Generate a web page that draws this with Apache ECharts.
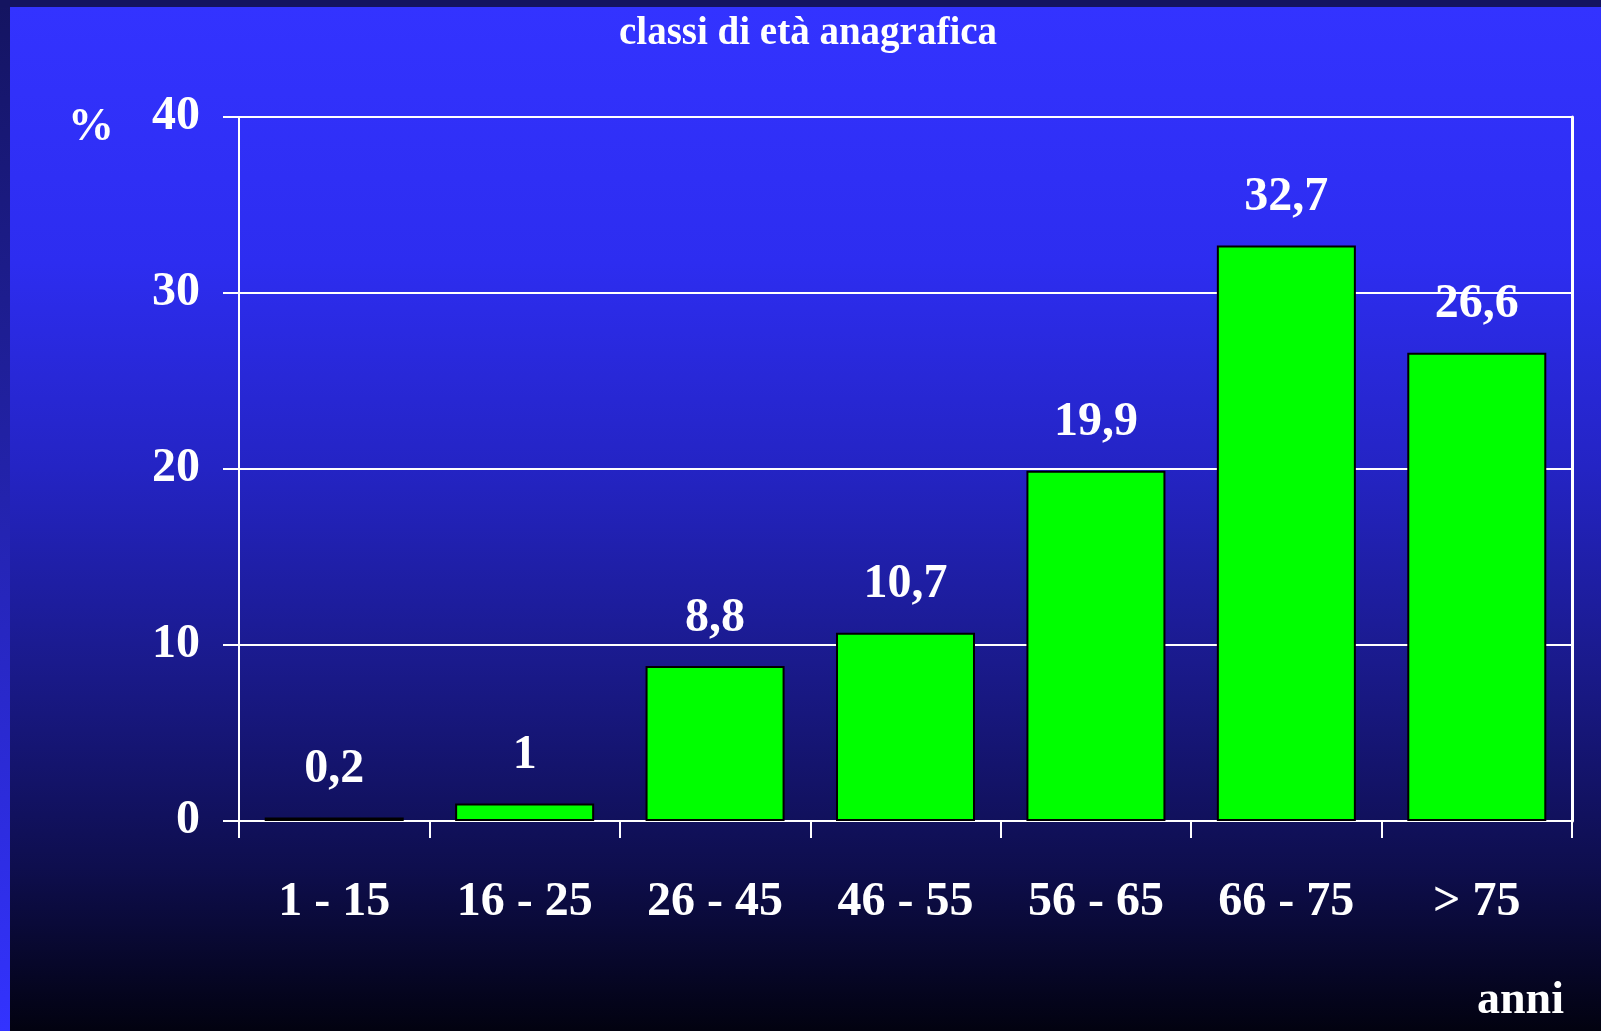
<!DOCTYPE html>
<html>
<head>
<meta charset="utf-8">
<script src="https://cdn.jsdelivr.net/npm/echarts@6/dist/echarts.min.js"></script>
<style>
  html, body { margin: 0; padding: 0; overflow: hidden; background: #000; }
  #chart { width: 1601px; height: 1031px; }
</style>
</head>
<body>
<div id="chart"></div>
<script>
// classi di età anagrafica (%)
const categories = ['1 - 15', '16 - 25', '26 - 45', '46 - 55', '56 - 65', '66 - 75', '> 75'];
const values = [0.2, 1, 8.8, 10.7, 19.9, 32.7, 26.6];
const yTicks = [0, 10, 20, 30, 40];

const serif = '"Liberation Serif", "Times New Roman", serif';
const white = '#ffffff';

const chart = echarts.init(document.getElementById('chart'), null, { renderer: 'canvas' });

const options = {
  animation: false,
  backgroundColor: '#000',
  graphic: [
    {
      // left strip, darker at the top
      type: 'rect', z: -100, silent: true,
      shape: { x: 0, y: 0, width: 1601, height: 1031 },
      style: {
        fill: new echarts.graphic.LinearGradient(0, 0, 0, 1, [
          { offset: 0, color: '#141460' },
          { offset: 1, color: '#3333ff' }
        ])
      }
    },
    {
      // top strip
      type: 'rect', z: -99, silent: true,
      shape: { x: 0, y: 0, width: 1601, height: 7 },
      style: { fill: '#141460' }
    },
    {
      // main panel
      type: 'rect', z: -98, silent: true,
      shape: { x: 10, y: 7, width: 1591, height: 1024 },
      style: {
        fill: new echarts.graphic.LinearGradient(0, 0, 0, 1, [
          { offset: 0, color: '#3333ff' },
          { offset: 0.25, color: '#2d2df0' },
          { offset: 0.45, color: '#2424c4' },
          { offset: 0.64, color: '#1a1a8c' },
          { offset: 0.84, color: '#0e0e4e' },
          { offset: 1, color: '#020210' }
        ])
      }
    },
    {
      type: 'text', silent: true,
      style: {
        text: '%', x: 68, y: 128, fill: white,
        font: 'bold 46px ' + serif, verticalAlign: 'middle'
      }
    },
    {
      type: 'text', silent: true,
      style: {
        text: 'anni', x: 1477, y: 1001, fill: white,
        font: 'bold 46px ' + serif, verticalAlign: 'middle'
      }
    }
  ],
  title: {
    text: 'classi di età anagrafica',
    left: 619,
    top: 14,
    padding: 0,
    textStyle: { color: white, fontFamily: serif, fontWeight: 'bold', fontSize: 39 }
  },
  grid: { left: 239, right: 29, top: 117, bottom: 210, containLabel: false },
  xAxis: {
    type: 'category',
    data: categories,
    axisLine: { lineStyle: { color: white, width: 2 } },
    axisTick: { show: true, length: 17, lineStyle: { color: white, width: 2 } },
    axisLabel: {
      color: white, fontFamily: serif, fontWeight: 'bold', fontSize: 48, margin: 58
    }
  },
  yAxis: [
    {
      type: 'value',
      min: yTicks[0],
      max: yTicks[yTicks.length - 1],
      interval: 10,
      axisLine: { show: true, lineStyle: { color: white, width: 2 } },
      axisTick: { show: true, length: 16, lineStyle: { color: white, width: 2 } },
      splitLine: { show: true, lineStyle: { color: white, width: 2 } },
      axisLabel: {
        color: white, fontFamily: serif, fontWeight: 'bold', fontSize: 48, margin: 39,
        padding: [4, 0, 0, 0]
      }
    },
    {
      // right frame line
      type: 'value',
      position: 'right',
      min: yTicks[0],
      max: yTicks[yTicks.length - 1],
      interval: 10,
      axisLine: { show: true, lineStyle: { color: white, width: 3 } },
      axisTick: { show: false },
      splitLine: { show: false },
      axisLabel: { show: false }
    }
  ],
  series: [
    {
      type: 'bar',
      data: values,
      barWidth: '73%',
      itemStyle: { color: '#00ff00', borderColor: '#000000', borderWidth: 2 },
      label: {
        show: true,
        position: 'top',
        distance: 24,
        color: white,
        fontFamily: serif,
        fontWeight: 'bold',
        fontSize: 48,
        formatter: p => String(p.value).replace('.', ',')
      }
    }
  ]
};

chart.setOption(options);
</script>
</body>
</html>
